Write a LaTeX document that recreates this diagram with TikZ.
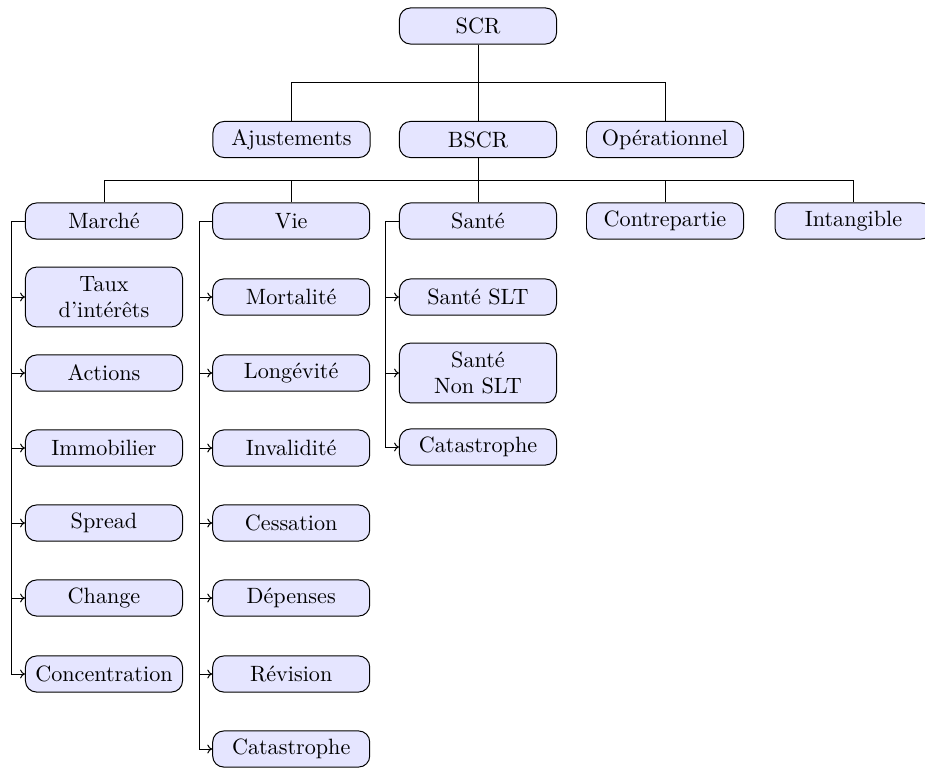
\documentclass[tikz,border=0pt]{standalone}
\usetikzlibrary{arrows.meta}
\begin{document}
\begin{tikzpicture}[x=0.4515pt,y=-0.4515pt,
  box/.style={draw=black, fill=blue!10, rounded corners=5pt, line width=0.45pt,
    minimum width=70.9pt, minimum height=16.3pt, inner sep=2pt, align=center, font=\normalsize},
  tall/.style={box, minimum height=27pt},
  conn/.style={line width=0.45pt},
  arr/.style={conn, -{To[length=2.2pt,width=4pt]}}]
\useasboundingbox (0,0) rectangle (925,767);
% level 1
\node[box] (scr) at (478,26) {SCR};
% level 2
\node[box] (aj) at (291.5,139.5) {Ajustements};
\node[box] (bscr) at (478,139.5) {BSCR};
\node[box] (op) at (665,139.5) {Opérationnel};
% level 3
\node[box] (mar) at (104,221) {Marché};
\node[box] (vie) at (291.2,221) {Vie};
\node[box] (san) at (478,221) {Santé};
\node[box] (cp) at (665,221) {Contrepartie};
\node[box] (int) at (853.5,221) {Intangible};
% Marché children
\node[tall] (m1) at (104,297) {Taux\\d'intérêts};
\node[box] (m2) at (104,373) {Actions};
\node[box] (m3) at (104,448) {Immobilier};
\node[box] (m4) at (104,523) {Spread};
\node[box] (m5) at (104,598) {Change};
\node[box] (m6) at (104,674) {Concentration};
% Vie children
\node[box] (v1) at (291.2,297) {Mortalité};
\node[box] (v2) at (291.2,373) {Longévité};
\node[box] (v3) at (291.2,448) {Invalidité};
\node[box] (v4) at (291.2,523) {Cessation};
\node[box] (v5) at (291.2,598) {Dépenses};
\node[box] (v6) at (291.2,674) {Révision};
\node[box] (v7) at (291.2,749) {Catastrophe};
% Santé children
\node[box] (s1) at (478,297) {Santé SLT};
\node[tall] (s2) at (478,373) {Santé\\Non SLT};
\node[box] (s3) at (478,447) {Catastrophe};
% bus coordinates
\coordinate (bus1) at (478,83);
\coordinate (bus2) at (478,180.5);
% top edges
\foreach \c in {aj,bscr,op}
  \draw[conn] (scr.south) -- (scr.south |- bus1) -| (\c.north);
\foreach \c in {mar,vie,san,cp,int}
  \draw[conn] (bscr.south) -- (bscr.south |- bus2) -| (\c.north);
% child edges
\foreach \c in {m1,m2,m3,m4,m5,m6}
  \draw[arr] (mar.west) -- ++(-13,0) |- (\c.west);
\foreach \c in {v1,v2,v3,v4,v5,v6,v7}
  \draw[arr] (vie.west) -- ++(-13,0) |- (\c.west);
\foreach \c in {s1,s2,s3}
  \draw[arr] (san.west) -- ++(-13,0) |- (\c.west);
\end{tikzpicture}
\end{document}
